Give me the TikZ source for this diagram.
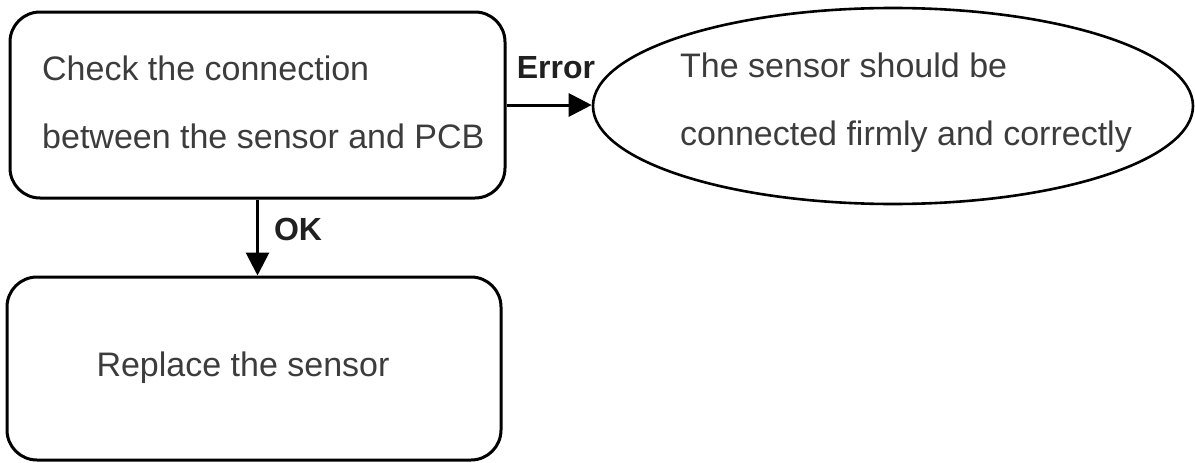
\documentclass[tikz,border=0pt]{standalone}
\usepackage{fontspec}
\setmainfont{Liberation Sans}
\usetikzlibrary{shapes.geometric,arrows.meta}
\definecolor{txt}{HTML}{3C3C3C}
\definecolor{lbl}{HTML}{202020}
\tikzset{
  box/.style={draw=black,line width=3pt,rounded corners=30pt,minimum width=#1},
  ell/.style={draw=black,line width=2.6pt,ellipse,inner sep=0pt},
  body/.style={anchor=base west,inner sep=0pt,text=txt,font=\fontsize{34}{40}\selectfont},
  lab/.style={inner sep=0pt,text=lbl,font=\fontsize{32}{38}\selectfont\bfseries},
  arr/.style={line width=3pt,-{Triangle[length=23pt,width=23pt]}}
}
\begin{document}
\begin{tikzpicture}[x=1pt,y=-1pt]
\useasboundingbox (0,0) rectangle (1195,463);
\node[box=495pt,minimum height=186pt] (b1) at (257.5,105) {};
\node[box=494pt,minimum height=183pt] (b2) at (254,368.5) {};
\node[ell,minimum width=600pt,minimum height=196pt] (e1) at (893,106) {};
\node[body] (t1) at (42,80) {Check the connection};
\node[body] (t2) at (42,148) {between the sensor and PCB};
\node[body] (t3) at (680,77) {The sensor should be};
\node[body] (t4) at (680,145) {connected firmly and correctly};
\node[body,anchor=center] (t5) at (243,368) {Replace the sensor};
\draw[arr] (b1.east) -- (b1.east -| e1.west);
\draw[arr] (b1.south) -- (b1.south |- b2.north);
\node[lab] (err) at (556,68) {Error};
\node[lab] (ok) at (298,229) {OK};
\end{tikzpicture}
\end{document}
